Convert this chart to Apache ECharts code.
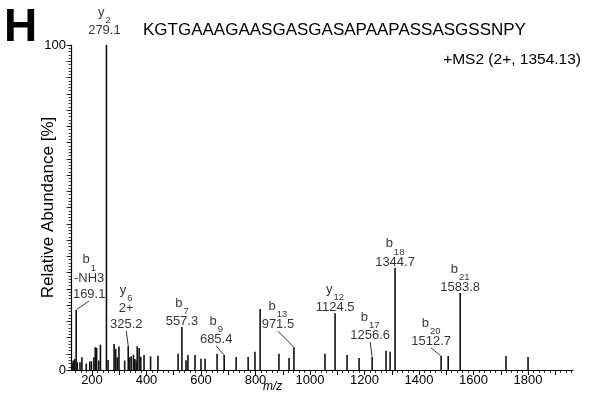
<!DOCTYPE html>
<html>
<head>
<meta charset="utf-8">
<script src="https://cdn.jsdelivr.net/npm/echarts@6/dist/echarts.min.js"></script>
<style>
  html, body { margin: 0; padding: 0; background: #fff; }
  #chart { width: 590px; height: 398px; }
</style>
</head>
<body>
<div id="chart"></div>
<script>
// peaks (m/z position on the drawn axis, relative abundance %)
var peakMz = [127, 131, 137, 142, 146, 156, 163, 179, 192, 198, 207, 212, 217, 225, 231,
  253, 259, 281, 287, 293, 299, 320, 333, 338, 344, 352, 357, 362, 366, 373, 379, 391,
  415, 442, 516, 530, 545, 552, 578, 600, 615, 659, 685, 729, 773, 798, 817, 886, 923,
  941, 1055, 1092, 1136, 1180, 1228, 1279, 1294, 1312, 1481, 1507, 1551, 1719, 1800]
var peakAbundance = [2.0, 2.9, 3.4, 18.5, 2.4, 2.4, 3.9, 2.0, 2.6, 2.7, 3.9, 7.0, 6.8, 2.9, 7.8,
  100, 3.1, 8.0, 6.5, 3.9, 7.2, 2.9, 7.4, 3.9, 4.2, 4.7, 3.4, 2.9, 7.3, 6.8, 4.1, 4.6,
  4.2, 4.4, 5.0, 13.2, 3.0, 4.6, 4.6, 3.5, 3.5, 5.0, 4.6, 4.0, 4.0, 5.6, 18.8, 5.0, 3.7,
  7.0, 5.0, 17.5, 4.6, 3.7, 4.0, 5.9, 5.6, 31.5, 4.3, 4.3, 23.7, 4.3, 4.0]

// annotated fragment ions
var ionPeak = [142, 253, 333, 530, 685, 941, 1092, 1228, 1312, 1481, 1551]
var ionType = ['b', 'y', 'y', 'b', 'b', 'b', 'y', 'b', 'b', 'b', 'b']
var ionIndex = ['1', '2', '6', '7', '9', '13', '12', '17', '18', '20', '21']
var ionNote = ['-NH3', '', '2+', '', '', '', '', '', '', '', '']
var ionMzText = ['169.1', '279.1', '325.2', '557.3', '685.4', '971.5', '1124.5', '1256.6', '1344.7', '1512.7', '1583.8']

var xTickLabels = [200, 400, 600, 800, 1000, 1200, 1400, 1600, 1800]
var yTickLabels = [0, 100]

var sequence = 'KGTGAAAGAASGASGASAPAAPASSASGSSNPY'
var scanText = '+MS2 (2+, 1354.13)'

// label shifts in px (dx, dy) from the top of each annotated peak
var labelShift = [[13, -10], [-2, -9], [-2, -16], [0, 0], [-8, -10], [-16, -17], [0, 0], [-2, -16], [0, 0], [-10, -9], [0, 0]]

var font = '"Liberation Sans", Arial, sans-serif'
var xMin = 123, xMax = 1965

var xMajorTicks = [], xMinorTicks = []
for (var t = 140; t <= xMax; t += 20) {
  if (t % 100 === 0) xMajorTicks.push(t)
  else xMinorTicks.push(t)
}

var barData = peakMz.map(function (mz, i) { return [mz, peakAbundance[i]] })

var labelData = ionPeak.map(function (mz, i) {
  var h = peakAbundance[peakMz.indexOf(mz)]
  var lines = ['{ion|' + ionType[i] + '}{sub|' + ionIndex[i] + '}']
  if (ionNote[i]) lines.push('{num|' + ionNote[i] + '}')
  lines.push('{num|' + ionMzText[i] + '}')
  var moved = Math.abs(labelShift[i][0]) + Math.abs(labelShift[i][1]) > 3 && i !== 1
  return {
    value: [mz, h],
    label: { formatter: lines.join('\n') },
    labelLine: { show: moved }
  }
})

var chart = echarts.init(document.getElementById('chart'))

var option = {
  animation: false,
  backgroundColor: '#fff',
  textStyle: { fontFamily: font, color: '#000' },
  title: [
    { text: 'H', left: 4, top: 5, padding: 0,
      textStyle: { fontSize: 46, fontWeight: 'bold', fontFamily: font, color: '#000' } },
    { text: sequence, left: 143, top: 22, padding: 0,
      textStyle: { fontSize: 17, fontWeight: 'normal', fontFamily: font, color: '#000' } },
    { text: scanText, right: 9, top: 52, padding: 0,
      textStyle: { fontSize: 15.5, fontWeight: 'normal', fontFamily: font, color: '#000' } },
    { text: 'm/z', left: 263, top: 381, padding: 0,
      textStyle: { fontSize: 12, fontWeight: 'normal', fontStyle: 'italic', fontFamily: font, color: '#000' } }
  ],
  grid: { left: 71, right: 17, top: 45, bottom: 28 },
  xAxis: [{
    type: 'value',
    min: xMin,
    max: xMax,
    splitLine: { show: false },
    axisLine: { show: true, onZero: false, lineStyle: { color: '#000', width: 1.2 } },
    axisTick: { show: true, customValues: xMajorTicks, length: 5, lineStyle: { color: '#000' } },
    axisLabel: {
      customValues: xTickLabels, margin: 4, fontSize: 13, color: '#000', fontFamily: font,
      formatter: function (v) { return String(v) }
    }
  }, {
    type: 'value',
    min: xMin,
    max: xMax,
    position: 'bottom',
    splitLine: { show: false },
    axisLine: { show: false },
    axisTick: { show: true, customValues: xMinorTicks, length: 3, lineStyle: { color: '#000', width: 0.8 } },
    axisLabel: { show: false }
  }],
  yAxis: [{
    type: 'value',
    min: 0,
    max: 100,
    interval: 1,
    name: 'Relative Abundance [%]',
    nameLocation: 'middle',
    nameGap: 14,
    nameMoveOverlap: false,
    nameTextStyle: { fontSize: 17, color: '#000', fontFamily: font },
    splitLine: { show: false },
    axisLine: { show: true, lineStyle: { color: '#000', width: 1.2 } },
    axisTick: { show: true, length: 2.5, lineStyle: { color: '#000', width: 0.7 } },
    axisLabel: {
      margin: 5, fontSize: 13, color: '#000', fontFamily: font, hideOverlap: false,
      formatter: function (v) { return yTickLabels.indexOf(v) >= 0 ? String(v) : '' }
    }
  }, {
    type: 'value',
    min: 0,
    max: 100,
    interval: 5,
    position: 'left',
    splitLine: { show: false },
    axisLine: { show: false },
    axisTick: { show: true, length: 4.5, lineStyle: { color: '#000', width: 0.8 } },
    axisLabel: { show: false }
  }],
  series: [{
    type: 'bar',
    barWidth: 1.6,
    itemStyle: { color: '#111' },
    data: barData
  }, {
    type: 'scatter',
    symbolSize: 1,
    itemStyle: { color: 'rgba(0,0,0,0)' },
    z: 5,
    label: {
      show: true,
      position: 'top',
      distance: -3,
      color: '#000',
      fontFamily: font,
      rich: {
        ion: { fontSize: 13, lineHeight: 21, verticalAlign: 'middle', fontFamily: font },
        sub: { fontSize: 9.5, lineHeight: 21, verticalAlign: 'bottom', padding: [0, 0, -3, 1], fontFamily: font },
        num: { fontSize: 13, lineHeight: 16, fontFamily: font }
      }
    },
    labelLine: { show: true, lineStyle: { color: '#000', width: 0.8 } },
    labelLayout: function (p) {
      var s = labelShift[p.dataIndex]
      return { dx: s[0], dy: s[1] }
    },
    data: labelData
  }]
}

chart.setOption(option)
</script>
</body>
</html>
